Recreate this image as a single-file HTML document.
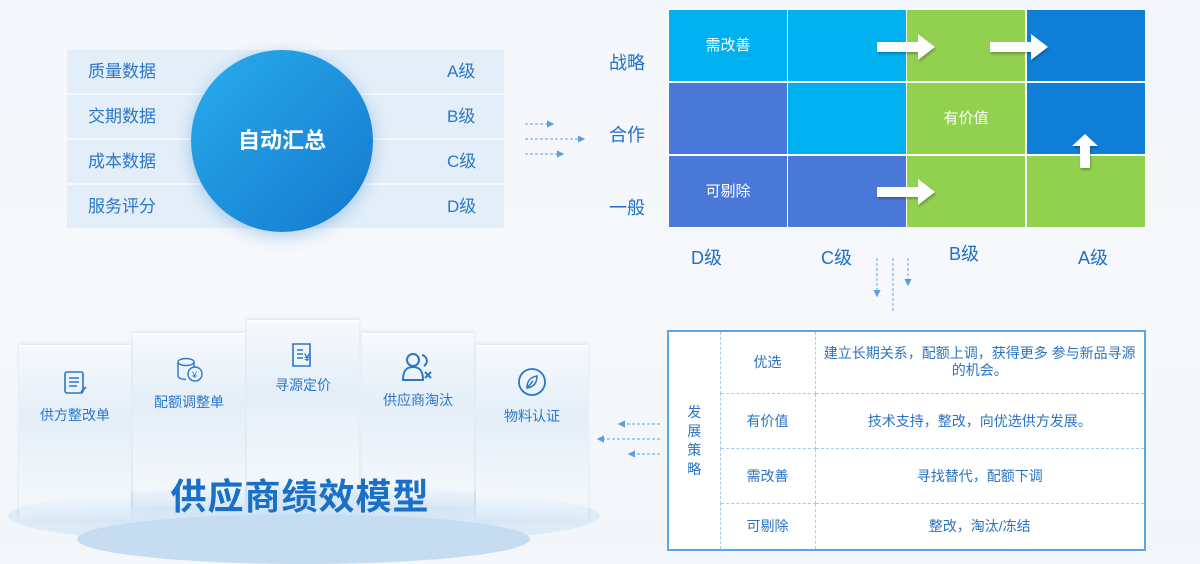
<!DOCTYPE html>
<html><head><meta charset="utf-8"><style>
*{margin:0;padding:0;box-sizing:border-box}
body{width:1200px;height:551px;overflow:hidden;position:relative;font-family:"Liberation Sans","Noto Sans CJK SC",sans-serif;background:linear-gradient(180deg,#f4f7fb 0%,#f6f8fb 60%,#f2f6fa 100%)}
.a{position:absolute}
.row{position:absolute;left:67px;width:437px;height:43px;background:#e3eef8;color:#2a78c8;font-size:17px;line-height:43px}
.row .l{position:absolute;left:21px}.row .r{position:absolute;left:380px}
.circle{position:absolute;left:191px;top:50px;width:182px;height:182px;border-radius:50%;background:linear-gradient(135deg,#28acea,#1578d0);box-shadow:0 4px 16px rgba(40,130,210,.35);color:#fff;font-size:22px;font-weight:bold;text-align:center;line-height:182px}
.cell{position:absolute;width:118px;height:71px;color:#fff;font-size:15px;text-align:center;line-height:71px}
.lb{position:absolute;color:#1f6fc6;font-size:18px}
.card{position:absolute;width:112px;height:175px;background:linear-gradient(180deg,#f6f9fd 0%,#e4eef8 40%,#f2f7fc 85%,rgba(246,249,252,0) 100%);border-top:2px solid #fff;box-shadow:0 -1px 3px rgba(150,180,210,.3);color:#2a78c8;font-size:14px;text-align:center}
table{position:absolute;left:667px;top:330px;width:479px;height:221px;border-collapse:collapse;border:2px solid #5aa5e6;font-size:14px;color:#2a72c2;text-align:center;background:#fff}
td{border:1px dashed #a8cbec}
</style></head><body>
<div class="row" style="top:50px"><span class="l">质量数据</span><span class="r">A级</span></div>
<div class="row" style="top:95px"><span class="l">交期数据</span><span class="r">B级</span></div>
<div class="row" style="top:140px"><span class="l">成本数据</span><span class="r">C级</span></div>
<div class="row" style="top:185px"><span class="l">服务评分</span><span class="r">D级</span></div>
<div class="circle">自动汇总</div>

<svg class="a" style="left:0;top:0" width="1200" height="551">
<defs><marker id="h" markerWidth="6" markerHeight="6" refX="5" refY="3" orient="auto"><path d="M0,0L6,3L0,6z" fill="#5a9fe0"/></marker></defs>
<g stroke="#7fb2e6" stroke-width="1.2" stroke-dasharray="3,2" fill="none">
<line x1="525" y1="124" x2="553" y2="124" marker-end="url(#h)"/>
<line x1="525" y1="139" x2="584" y2="139" marker-end="url(#h)"/>
<line x1="525" y1="154" x2="563" y2="154" marker-end="url(#h)"/>
<line x1="877" y1="258" x2="877" y2="296" marker-end="url(#h)"/>
<line x1="893" y1="258" x2="893" y2="311"/>
<line x1="908" y1="258" x2="908" y2="285" marker-end="url(#h)"/>
<line x1="660" y1="424" x2="619" y2="424" marker-end="url(#h)"/>
<line x1="660" y1="439" x2="598" y2="439" marker-end="url(#h)"/>
<line x1="660" y1="454" x2="629" y2="454" marker-end="url(#h)"/>
</g></svg>

<div class="lb" style="left:609px;top:49px">战略</div>
<div class="lb" style="left:609px;top:121px">合作</div>
<div class="lb" style="left:609px;top:194px">一般</div>
<div class="a" style="left:668px;top:9px;width:478px;height:219px;background:#fff"></div>
<div class="cell" style="left:669px;top:10px;background:#00b0ef">需改善</div>
<div class="cell" style="left:788px;top:10px;background:#00b0ef"></div>
<div class="cell" style="left:907px;top:10px;background:#92d050"></div>
<div class="cell" style="left:1027px;top:10px;background:#0f7ed6"></div>
<div class="cell" style="left:669px;top:83px;background:#4a78d8"></div>
<div class="cell" style="left:788px;top:83px;background:#00b0ef"></div>
<div class="cell" style="left:907px;top:83px;background:#92d050">有价值</div>
<div class="cell" style="left:1027px;top:83px;background:#0f7ed6"></div>
<div class="cell" style="left:669px;top:156px;background:#4a78d8">可剔除</div>
<div class="cell" style="left:788px;top:156px;background:#4a78d8"></div>
<div class="cell" style="left:907px;top:156px;background:#92d050"></div>
<div class="cell" style="left:1027px;top:156px;background:#92d050"></div>
<svg class="a" style="left:0;top:0" width="1200" height="551">
<g fill="#fff" style="filter:drop-shadow(1px 2px 1px rgba(0,0,0,.25))">
<path d="M877,42h41v-8l17,13l-17,13v-8h-41z"/>
<path d="M990,42h41v-8l17,13l-17,13v-8h-41z"/>
<path d="M877,187h41v-8l17,13l-17,13v-8h-41z"/>
<path d="M1080,168v-22h-8l13,-12l13,12h-8v22z"/>
</g></svg>
<div class="lb" style="left:691px;top:244px">D级</div>
<div class="lb" style="left:821px;top:244px">C级</div>
<div class="lb" style="left:949px;top:240px">B级</div>
<div class="lb" style="left:1078px;top:244px">A级</div>

<table>
<tr style="height:62px"><td rowspan="4" style="width:52px;line-height:19px">发<br>展<br>策<br>略</td><td style="width:95px">优选</td><td style="padding:0 8px;line-height:17px">建立长期关系，配额上调，获得更多 参与新品寻源的机会。</td></tr>
<tr style="height:55px"><td>有价值</td><td>技术支持，整改，向优选供方发展。</td></tr>
<tr style="height:55px"><td>需改善</td><td>寻找替代，配额下调</td></tr>
<tr><td>可剔除</td><td>整改，淘汰/冻结</td></tr>
</table>

<div class="a" style="left:8px;top:486px;width:592px;height:60px;border-radius:50%;background:radial-gradient(ellipse,#cfe3f4 0%,#dbeaf7 60%,#e6f0f9 100%)"></div>
<div class="a" style="left:77px;top:514px;width:453px;height:50px;border-radius:50%;background:#c6ddf1"></div>
<div class="card" style="left:19px;top:345px"><svg style="margin-top:23px" width="24" height="26"><rect x="2" y="2" width="18" height="21" rx="2" fill="none" stroke="#2a78c8" stroke-width="1.6"/><path d="M6,8h10M6,12h10M6,16h8" stroke="#2a78c8" stroke-width="1.4"/><path d="M18,22l5,-5" stroke="#2a78c8" stroke-width="1.6"/></svg><div style="margin-top:6px">供方整改单</div></div>
<div class="card" style="left:133px;top:333px"><svg style="margin-top:20px" width="28" height="28"><ellipse cx="11" cy="7" rx="8" ry="3.5" fill="none" stroke="#2a78c8" stroke-width="1.4"/><path d="M3,7v14c0,2 4,3.5 8,3.5M19,7v5" fill="none" stroke="#2a78c8" stroke-width="1.4"/><circle cx="20" cy="19" r="7" fill="none" stroke="#2a78c8" stroke-width="1.4"/><text x="17" y="23" font-size="9" fill="#2a78c8">¥</text></svg><div style="margin-top:6px">配额调整单</div></div>
<div class="card" style="left:247px;top:320px"><svg style="margin-top:20px" width="26" height="26"><path d="M3,2h17v22h-17z" fill="none" stroke="#2a78c8" stroke-width="1.6"/><path d="M7,8h6M7,12h6M7,16h6" stroke="#2a78c8" stroke-width="1.4"/><text x="14" y="19" font-size="11" fill="#2a78c8" font-weight="bold">¥</text></svg><div style="margin-top:4px">寻源定价</div></div>
<div class="card" style="left:362px;top:333px"><svg style="margin-top:16px" width="34" height="32"><circle cx="12" cy="9" r="6" fill="none" stroke="#2a78c8" stroke-width="2"/><path d="M2,29c0,-10 4,-13 10,-13s10,3 10,13z" fill="none" stroke="#2a78c8" stroke-width="2"/><path d="M21,4a6,6 0 0 1 2,11" fill="none" stroke="#2a78c8" stroke-width="2"/><path d="M24,21l6,6M30,21l-6,6" stroke="#2a78c8" stroke-width="2"/></svg><div style="margin-top:4px">供应商淘汰</div></div>
<div class="card" style="left:476px;top:345px"><svg style="margin-top:20px" width="30" height="30"><circle cx="15" cy="15" r="13" fill="none" stroke="#2a78c8" stroke-width="1.8"/><path d="M10,21c0,-8 4,-11 10,-12c0,7 -3,11 -10,12zM10,21l6,-7" fill="none" stroke="#2a78c8" stroke-width="1.5"/></svg><div style="margin-top:6px">物料认证</div></div>
<div class="a" style="left:0;top:468px;width:600px;text-align:center;font-size:36px;font-weight:bold;color:#1a6fc6;letter-spacing:1px">供应商绩效模型</div>
</body></html>
